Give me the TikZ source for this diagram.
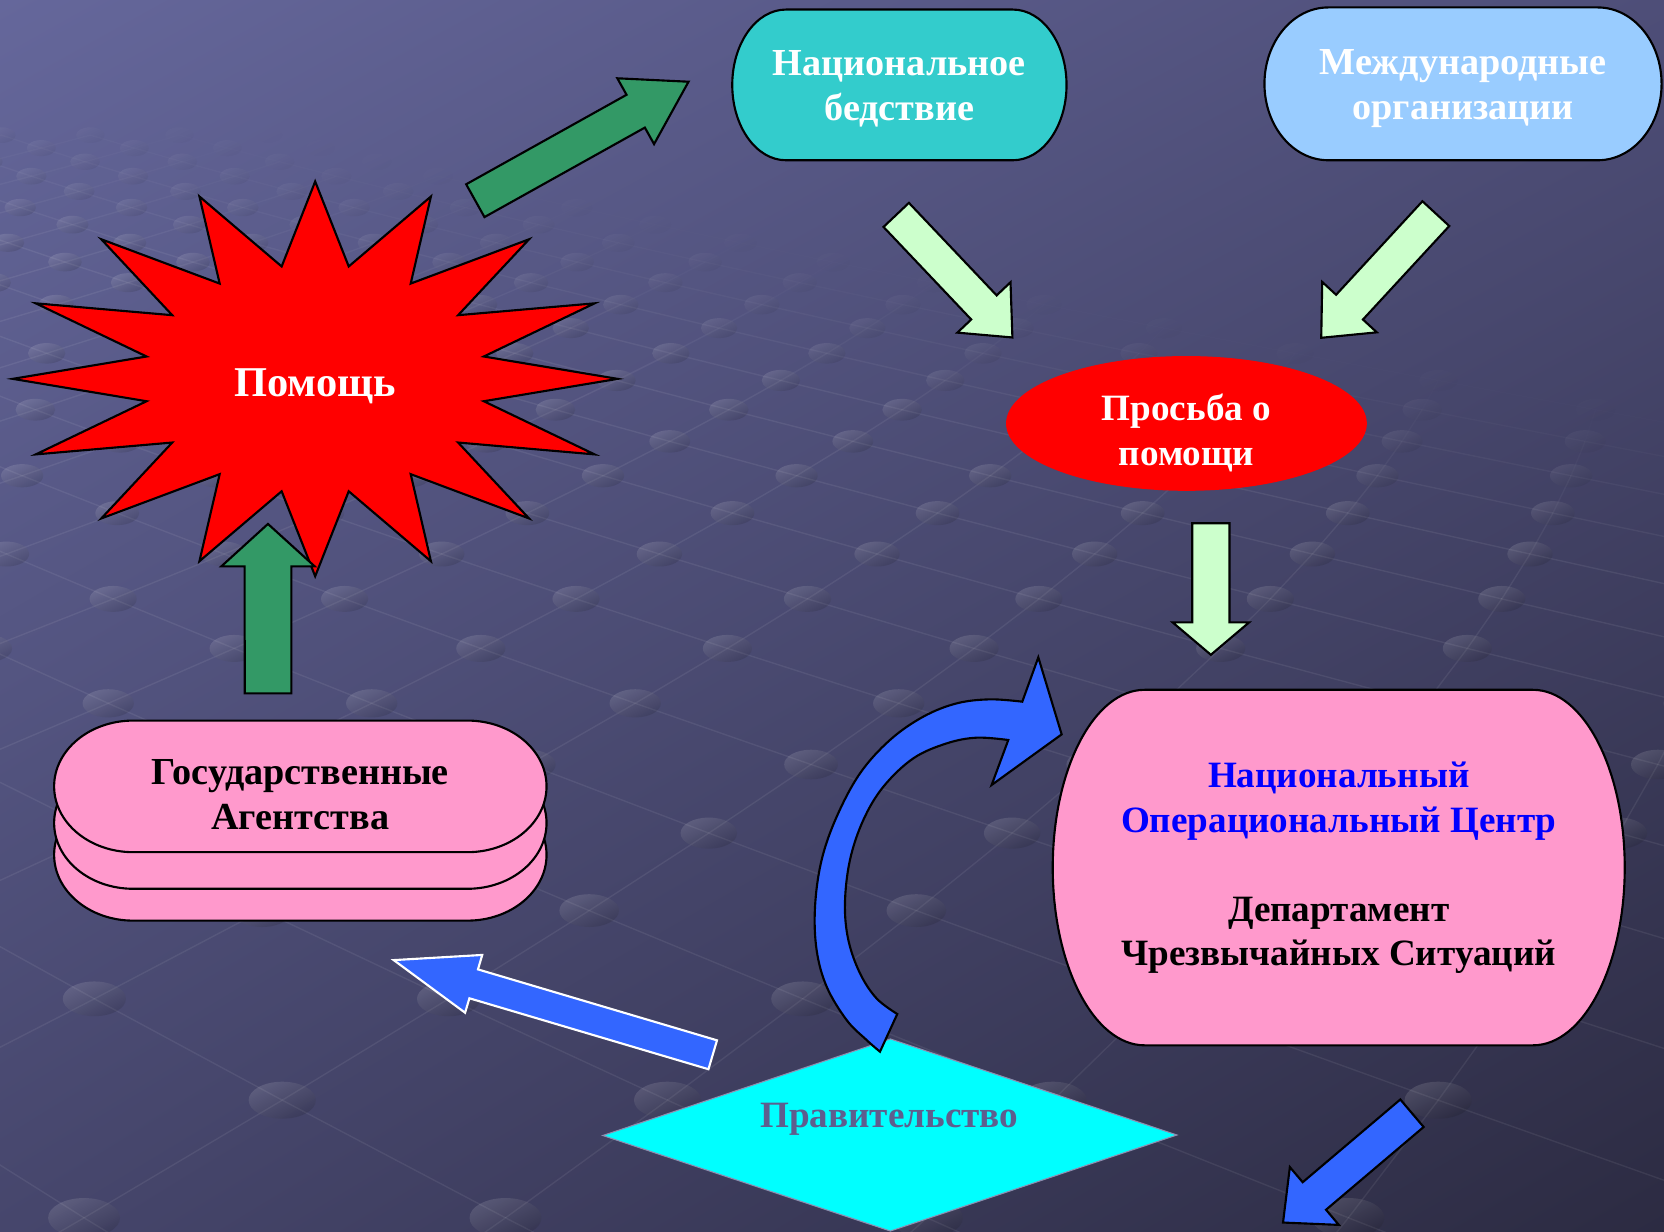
\documentclass[tikz,border=0pt]{standalone}
\usepackage{fontspec}
\setmainfont{Liberation Serif}
\usetikzlibrary{calc,shadings}
\definecolor{bgUL}{HTML}{65679B}
\definecolor{bgUR}{HTML}{4E4E78}
\definecolor{bgLL}{HTML}{46466C}
\definecolor{bgLR}{HTML}{2C2B42}
\definecolor{tealbox}{HTML}{33CCCC}
\definecolor{skybox}{HTML}{99CCFF}
\definecolor{pinkbox}{HTML}{FF99CC}
\definecolor{mint}{HTML}{CCFFCC}
\definecolor{seagreen}{HTML}{339966}
\definecolor{royal}{HTML}{3366FF}
\definecolor{aqua}{HTML}{00FFFF}
\definecolor{govtext}{HTML}{5E5E8E}
\definecolor{nocblue}{HTML}{0000FF}
\tikzset{
  gridline/.style={draw=white, line width=1.3pt},
  bgdot/.style={top color=white, bottom color=black, shading angle=25},
  outl/.style={draw=black, line width=2pt, line join=miter},
  lbl/.style={font=\bfseries\fontsize{36}{42}\selectfont, align=center, inner sep=0pt},
}
% terminator shape: style, x1, y1, x2, y2
\newcommand\termshape[5]{%
  \pgfmathsetmacro\trx{0.1606*(#4-#2)}%
  \pgfmathsetmacro\try{(#5-#3)/2}%
  \pgfmathsetmacro\tkx{0.5523*\trx}%
  \pgfmathsetmacro\tky{0.5523*\try}%
  \pgfmathsetmacro\tym{(#3+#5)/2}%
  \path[#1] ({#2+\trx},#3) -- ({#4-\trx},#3)
    .. controls ({#4-\trx+\tkx},#3) and (#4,{\tym-\tky}) .. (#4,\tym)
    .. controls (#4,{\tym+\tky}) and ({#4-\trx+\tkx},#5) .. ({#4-\trx},#5)
    -- ({#2+\trx},#5)
    .. controls ({#2+\trx-\tkx},#5) and (#2,{\tym+\tky}) .. (#2,\tym)
    .. controls (#2,{\tym-\tky}) and ({#2+\trx-\tkx},#3) .. cycle;}
% block arrow: style, tail, tip, half shaft, half head, head length
\newcommand\barrow[6]{%
  \path[#1] ($(#2)!#4!90:(#3)$) -- ($(#3)!#6!(#2)!#4!90:(#3)$)
    -- ($(#3)!#6!(#2)!#5!90:(#3)$) -- (#3)
    -- ($(#3)!#6!(#2)!#5!-90:(#3)$) -- ($(#3)!#6!(#2)!#4!-90:(#3)$)
    -- ($(#2)!#4!-90:(#3)$) -- cycle;}
\begin{document}
\begin{tikzpicture}[x=1pt,y=-1pt]
\useasboundingbox (0,0) rectangle (1568,1160);
\shade[upper left=bgUL, upper right=bgUR, lower left=bgLL, lower right=bgLR] (0,0) rectangle (1568,1160);
% floor texture (perspective lattice of studs and grooves)
\begin{scope}
\clip (0,0) rectangle (1568,1160);
\foreach \k in {-19,...,8}{
  \pgfmathsetmacro\ya{10000/(11.021-0.539*\k)-343}
  \pgfmathsetmacro\yb{10000/(11.021-0.539*(\k+1))-343}
  \pgfmathsetmacro\of{0.5*mod(\k+100,2)}
  \foreach \i in {-3,...,18}{
    \pgfmathsetmacro\Xa{-0.047+0.307*(\i+\of)}
    \pgfmathsetmacro\xd{140+\Xa*(\ya+146)}
    \pgfmathsetmacro\fa{max(0,min(1,(\ya-70-0.2*\xd)/150))}
    \draw[gridline, draw opacity=0.07*\fa] ({140+(\Xa+0.1535)*(\yb+146)},\yb) -- (\xd,\ya) -- ({140+(\Xa-0.1535)*(\yb+146)},\yb);
  }
}
\foreach \k in {-19,...,9}{
  \pgfmathsetmacro\ya{10000/(11.021-0.539*\k)-343}
  \pgfmathsetmacro\of{0.5*mod(\k+100,2)}
  \pgfmathsetmacro\drx{8+0.02*(\ya+146)}
  \pgfmathsetmacro\dry{0.55*\drx}
  \foreach \i in {-3,...,18}{
    \pgfmathsetmacro\Xa{-0.047+0.307*(\i+\of)}
    \pgfmathsetmacro\xd{140+\Xa*(\ya+146)}
    \pgfmathsetmacro\fa{max(0,min(1,(\ya-70-0.2*\xd)/150))}
    \shade[bgdot, fill opacity=0.13*\fa] (\xd,\ya) ellipse [x radius=\drx, y radius=\dry];
  }
}
\end{scope}

% coordinates of the block arrows
\coordinate (ga1) at (447.9,189.1); \coordinate (ga2) at (648.8,77);
\coordinate (la1) at (844.5,202.5); \coordinate (la2) at (954,318);
\coordinate (lb1) at (1353,201.3);  \coordinate (lb2) at (1245,318.3);
\coordinate (lc1) at (1141,493);    \coordinate (lc2) at (1141,617);
\coordinate (gb1) at (252.6,653.4); \coordinate (gb2) at (252.5,493.7);
\coordinate (ba1) at (671.6,993.9); \coordinate (ba2) at (371,904.7);
\coordinate (bb1) at (1330.5,1049); \coordinate (bb2) at (1209,1152);

% top boxes
\termshape{outl, fill=tealbox}{690}{9}{1005}{151}
\termshape{outl, fill=skybox}{1191.5}{7}{1565.7}{151}

% star
\draw[outl, fill=red] (297,171)
  \foreach \m in {0,...,14}{ -- ({297+162*cos(-78.75+22.5*\m)},{357+108*sin(-78.75+22.5*\m)}) -- ({297+285*cos(-67.5+22.5*\m)},{357+186*sin(-67.5+22.5*\m)}) }
  -- ({297+162*cos(258.75)},{357+108*sin(258.75)}) -- cycle;

\barrow{outl, fill=seagreen}{ga1}{ga2}{17.7pt}{35.5pt}{57pt}
\barrow{outl, fill=seagreen}{gb1}{gb2}{22pt}{44pt}{40pt}

% request ellipse
\fill[red] (1118,399) ellipse [x radius=170, y radius=63.5];

\barrow{outl, fill=mint}{la1}{la2}{16.5pt}{34.5pt}{39pt}
\barrow{outl, fill=mint}{lb1}{lb2}{17.2pt}{35pt}{39.3pt}
\barrow{outl, fill=mint}{lc1}{lc2}{17.5pt}{36pt}{30.5pt}

% national operational centre
\termshape{outl, fill=pinkbox}{992}{650}{1531}{985}

% state agencies (stack)
\termshape{outl, fill=pinkbox}{51}{743.5}{515}{867.5}
\termshape{outl, fill=pinkbox}{51}{713.5}{515}{837.5}
\termshape{outl, fill=pinkbox}{51}{679}{515}{803}

\barrow{draw=white, line width=2pt, fill=royal}{ba1}{ba2}{14.2pt}{28.4pt}{78.6pt}

% government diamond
\draw[draw=govtext!70!white, line width=1pt, fill=aqua] (568,1070) -- (839,979) -- (1109,1069.5) -- (839,1160) -- cycle;

% curved arrow
\draw[outl, fill=royal] plot[smooth, tension=0.6] coordinates {(829.2,991) (816.6,980) (797.8,961.2) (779,929.8) (769.5,895.2) (768,854.4) (774.2,810.4) (788.4,769.6) (810.4,728.7) (838.6,697.3) (870,675.3) (901.4,662.8) (932.9,659) (963.3,661.2)}
  -- (978.4,619.4) -- (1000.4,692) -- (934.4,739.7)
  -- plot[smooth, tension=0.6] coordinates {(950.1,697.3) (920.3,695.1) (892,700.5) (860.6,714.6) (832.4,741.3) (813.5,772.7) (800.9,810.4) (796.2,851.2) (799.4,885.8) (810.4,917.2) (826,940.8) (845.5,955.5)}
  -- cycle;

\barrow{outl, fill=royal}{bb1}{bb2}{17pt}{35.7pt}{38.7pt}

% texts
\node[lbl, text=white] (natdis) at (847.5,83.5) {Национальное\\бедствие};
\node[lbl, text=white] (intorg) at (1378.6,83.5) {Международные\\организации};
\node[lbl, text=white, font=\bfseries\fontsize{40}{46}\selectfont, anchor=base] (help) at (297,374) {Помощь};
\node[lbl, text=white, font=\bfseries\fontsize{35}{43}\selectfont] (req) at (1118,408) {Просьба о\\помощи};
\node[lbl, text=nocblue, font=\bfseries\fontsize{35}{42}\selectfont] (noc) at (1261.5,755) {Национальный\\Операциональный Центр};
\node[lbl, text=black, font=\bfseries\fontsize{35}{42}\selectfont] (dept) at (1261.5,881.5) {Департамент\\Чрезвычайных Ситуаций};
\node[lbl, text=black] (agency) at (283,749) {Государственные\\Агентства};
\node[lbl, text=govtext, font=\bfseries\fontsize{35}{42}\selectfont, anchor=base] (govt) at (838,1062.7) {Правительство};
\end{tikzpicture}
\end{document}
